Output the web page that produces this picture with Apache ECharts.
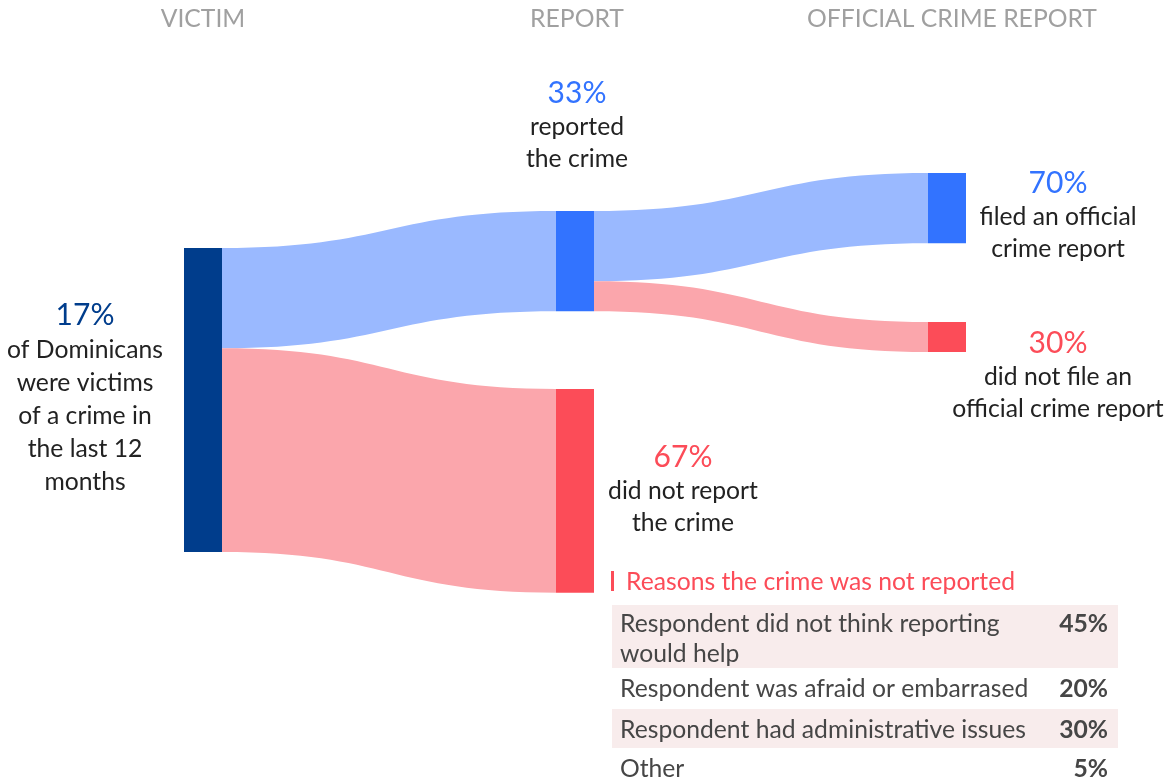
<!DOCTYPE html>
<html><head><meta charset="utf-8">
<script src="https://cdn.jsdelivr.net/npm/echarts@6/dist/echarts.min.js"></script>
<style>html,body{margin:0;padding:0;background:#fff}#c{width:1174px;height:783px}</style>
</head><body><div id="c"></div>
<script>
// ---- data ----
const stageTitles = ['VICTIM', 'REPORT', 'OFFICIAL CRIME REPORT'];
const nodeNames = ['victim', 'reported', 'notReported', 'filed', 'notFiled'];
const victimShare = 17;               // % of Dominicans
const reportShares = [33, 67];        // reported, did not report (% of victims)
const officialShares = [70, 30];      // filed, did not file (% of reporters)
const nodeTexts = [
  'of Dominicans\nwere victims\nof a crime in\nthe last 12\nmonths',
  'reported\nthe crime',
  'did not report\nthe crime',
  'filed an official\ncrime report',
  'did not file an\nofficial crime report'
];
const reasonsTitle = 'Reasons the crime was not reported';
const reasonLabels = [
  'Respondent did not think reporting\nwould help',
  'Respondent was afraid or embarrased',
  'Respondent had administrative issues',
  'Other'
];
const reasonValues = [45, 20, 30, 5];

// ---- styles / layout ----
const W = 1174, H = 783;
const FONT = 'Lato, "Noto Sans", sans-serif';
const FS = 24.7;
const DARK = '#003d8c', BLUE = '#3273ff', RED = '#fc4c58';
const BLUE_L = '#9ab9ff', RED_L = '#fba6ac';
const TXT = '#222222';
const nodePos = [[184, 248], [556, 211], [556, 389], [928, 173], [928, 322]];
const nodeColors = [DARK, BLUE, RED, BLUE, RED];
const pctColors = [DARK, BLUE, RED, BLUE, RED];
const labelCfg = [
  {position: 'left', distance: 99, offset: [0, -2]},
  {position: 'top', distance: 36, offset: [2, 0]},
  {position: 'right', distance: 89, offset: [0, -2]},
  {position: 'right', distance: 92, offset: [0, 7]},
  {position: 'right', distance: 92, offset: [0, 38]}
];
const shares = [victimShare, reportShares[0], reportShares[1], officialShares[0], officialShares[1]];

const nodes = nodeNames.map((n, i) => ({
  name: n,
  localX: nodePos[i][0] / W,
  localY: nodePos[i][1] / H,
  itemStyle: {color: nodeColors[i]},
  label: Object.assign({
    show: true,
    align: 'center',
    fontFamily: FONT,
    formatter: '{p|' + shares[i] + '%}\n' + nodeTexts[i].split('\n').map(t => '{t|' + t + '}').join('\n'),
    rich: {
      p: {fontFamily: FONT, fontSize: 30, lineHeight: 36, color: pctColors[i], align: 'center'},
      t: {fontFamily: FONT, fontSize: FS, lineHeight: i === 0 ? 33 : 32, color: TXT, align: 'center'}
    }
  }, labelCfg[i])
}));

const links = [
  {source: 'victim', target: 'reported', value: reportShares[0], lineStyle: {color: BLUE_L}},
  {source: 'victim', target: 'notReported', value: reportShares[1], lineStyle: {color: RED_L}},
  {source: 'reported', target: 'filed', value: reportShares[0] * officialShares[0] / 100, lineStyle: {color: BLUE_L}},
  {source: 'reported', target: 'notFiled', value: reportShares[0] * officialShares[1] / 100, lineStyle: {color: RED_L}}
];

// ---- graphics: headers + table ----
const stageX = [203, 577, 952];
const graphics = stageTitles.map((t, i) => ({
  type: 'text', x: stageX[i], y: 19,
  style: {text: t, fill: '#a0a0a0', font: FS + 'px ' + FONT, align: 'center', verticalAlign: 'middle'}
}));
graphics.push({type: 'rect', shape: {x: 611, y: 571, width: 3, height: 20}, style: {fill: RED}});
graphics.push({type: 'text', x: 626, y: 582, style: {text: reasonsTitle, fill: RED, font: FS + 'px ' + FONT, verticalAlign: 'middle'}});
const rowTop = [605, 668, 709, 748];
const rowH = [63, 41, 39, 40];
const rowLineCenter = [19, 21, 21, 21];
reasonLabels.forEach((lab, i) => {
  if (i % 2 === 0) graphics.push({type: 'rect', shape: {x: 612, y: rowTop[i], width: 506, height: rowH[i]}, style: {fill: '#f8ecec'}});
  graphics.push({type: 'text', x: 620, y: rowTop[i] + rowLineCenter[i] - 15,
    style: {text: lab, fill: '#464646', font: FS + 'px ' + FONT, lineHeight: 30, verticalAlign: 'top'}});
  graphics.push({type: 'text', x: 1108, y: rowTop[i] + rowLineCenter[i] - 15,
    style: {text: reasonValues[i] + '%', fill: '#464646', font: 'bold ' + FS + 'px ' + FONT, lineHeight: 30, align: 'right', verticalAlign: 'top'}});
});

const chart = echarts.init(document.getElementById('c'), null, {renderer: 'canvas'});
chart.setOption({
  animation: false,
  backgroundColor: '#fff',
  graphic: graphics,
  series: [{
    type: 'sankey',
    left: 0, top: 0, right: 0, bottom: 0,
    nodeWidth: 38,
    nodeGap: H - 304,
    nodeAlign: 'left',
    layoutIterations: 0,
    draggable: false,
    emphasis: {disabled: true},
    lineStyle: {opacity: 1, curveness: 0.5},
    data: nodes,
    links: links
  }]
});
</script></body></html>
